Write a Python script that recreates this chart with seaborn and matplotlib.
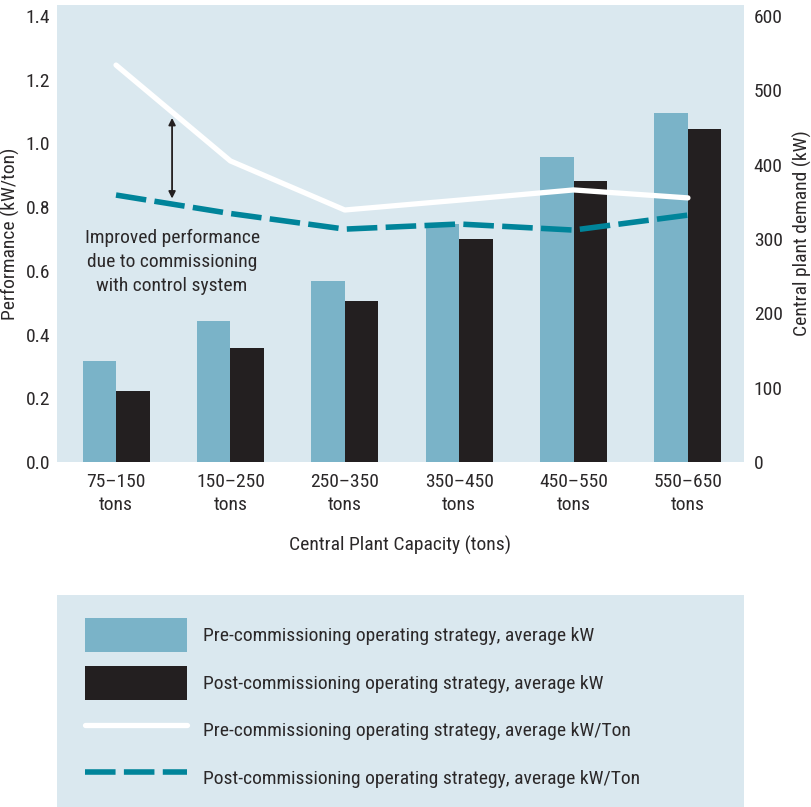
import numpy as np
import pandas as pd
import matplotlib
matplotlib.use('Agg')
import matplotlib.pyplot as plt
from matplotlib.patches import Patch
from matplotlib.lines import Line2D
from matplotlib import font_manager as fm
import seaborn as sns

# Data
categories = ['75–150\ntons', '150–250\ntons', '250–350\ntons',
              '350–450\ntons', '450–550\ntons', '550–650\ntons']
pre_kw = [136, 190, 243, 320, 410, 470]
post_kw = [96, 153, 217, 300, 378, 448]
pre_kwton = [1.246, 0.945, 0.791, 0.822, 0.854, 0.829]
post_kwton = [0.838, 0.780, 0.731, 0.747, 0.728, 0.775]

labels = ['Pre-commissioning operating strategy, average kW',
          'Post-commissioning operating strategy, average kW',
          'Pre-commissioning operating strategy, average kW/Ton',
          'Post-commissioning operating strategy, average kW/Ton']

bg = '#dae8ef'
c_pre = '#7ab3c8'
c_post = '#231f20'
c_teal = '#00849a'
c_text = '#2b2829'

sns.set_style('white')
names = {f.name for f in fm.fontManager.ttflist}
font = 'Roboto'
fs = 13.2
for cand in ['Roboto Condensed', 'Liberation Sans Narrow']:
    if cand in names:
        font = cand
        fs = 14
        break
plt.rcParams['font.family'] = [font, 'DejaVu Sans']
plt.rcParams['text.color'] = c_text
plt.rcParams['axes.labelcolor'] = c_text
plt.rcParams['xtick.color'] = c_text
plt.rcParams['ytick.color'] = c_text

df = pd.DataFrame({
    'cap': categories * 2,
    'kw': pre_kw + post_kw,
    'phase': ['pre'] * 6 + ['post'] * 6,
})

fig = plt.figure(figsize=(8.12, 8.07), dpi=100)
ax = fig.add_axes([57 / 812, 345 / 807, 687 / 812, 457 / 807])
ax.set_facecolor(bg)

# bars on the kW axis (shown on the right)
sns.barplot(data=df, x='cap', y='kw', hue='phase', order=categories,
            hue_order=['pre', 'post'], palette=[c_pre, c_post],
            width=0.586, gap=0, saturation=1, legend=False, linewidth=0,
            ax=ax)

# lines on the kW/ton axis (shown on the left)
ax2 = ax.twinx()
xpos = np.arange(len(categories))
sns.lineplot(x=xpos, y=pre_kwton, color='white', lw=3.8, ax=ax2)
sns.lineplot(x=xpos, y=post_kwton, color=c_teal, lw=4, ax=ax2,
             ls=(0, (5.5, 1.5)))

ax.set_ylim(0, 614.8)
ax.yaxis.tick_right()
ax.yaxis.set_label_position('right')
ax.set_yticks([0, 100, 200, 300, 400, 500, 600])
ax.set_ylabel('Central plant demand (kW)', fontsize=fs, labelpad=7)
ax.set_xlabel('Central Plant Capacity (tons)', fontsize=fs, labelpad=16)
ax.tick_params(axis='y', length=0, pad=7, labelsize=fs)
ax.tick_params(axis='x', length=0, pad=8, labelsize=fs)
for lab in ax.get_xticklabels():
    lab.set_linespacing(1.35)

ax2.set_ylim(0, 1.4345)
ax2.yaxis.tick_left()
ax2.yaxis.set_label_position('left')
ax2.set_yticks(np.arange(0, 1.41, 0.2))
ax2.set_yticklabels([f'{v:.1f}' for v in np.arange(0, 1.41, 0.2)])
ax2.set_ylabel('Performance (kW/ton)', fontsize=fs, labelpad=4)
ax2.tick_params(axis='y', length=0, pad=5, labelsize=fs)
ax2.set_xlim(-0.516, 5.49)
ax.set_xlim(-0.516, 5.49)

for a in (ax, ax2):
    for s in a.spines.values():
        s.set_visible(False)

ax2.annotate('', xy=(0.49, 1.08), xytext=(0.49, 0.827),
             arrowprops=dict(arrowstyle='<|-|>', color=c_post, lw=1.3,
                             mutation_scale=10, shrinkA=0, shrinkB=0))
ax2.text(0.49, 0.628, 'Improved performance\ndue to commissioning\nwith control system',
         ha='center', va='center', fontsize=fs, linespacing=1.4)

# legend panel
lax = fig.add_axes([57 / 812, 0, 687 / 812, 212 / 807])
lax.set_facecolor(bg)
lax.set_xticks([])
lax.set_yticks([])
for s in lax.spines.values():
    s.set_visible(False)

handles = [Patch(facecolor=c_pre, linewidth=0), Patch(facecolor=c_post, linewidth=0),
           Line2D([], [], color='white', lw=3.8),
           Line2D([], [], color=c_teal, lw=4, ls=(0, (5.5, 1.5)))]
hh = (34 / fs / (100 / 72) - 0.245) / 0.65
lax.legend(handles, labels, loc='upper left',
           bbox_to_anchor=(85 / 812, 189 / 807), bbox_transform=fig.transFigure,
           frameon=False, fontsize=fs, handlelength=102 / fs / (100 / 72),
           handleheight=hh, handletextpad=16 / fs / (100 / 72),
           labelspacing=13.5 / fs / (100 / 72), borderpad=0, borderaxespad=0)

fig.savefig('out.png', dpi=100)
